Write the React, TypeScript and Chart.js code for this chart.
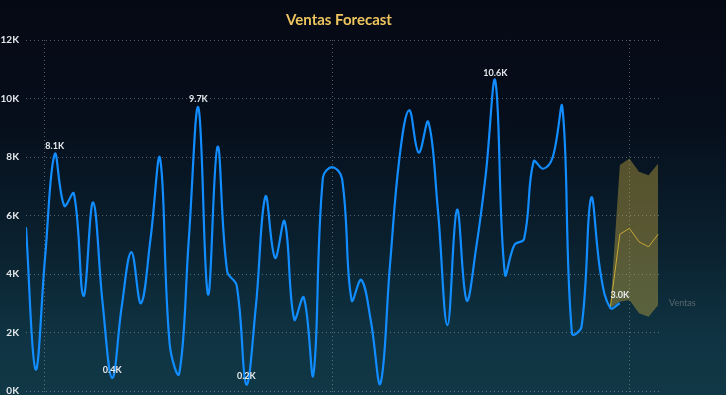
import React, { useEffect, useRef } from "react";
import { Chart, registerables } from "chart.js";

Chart.register(...registerables);

const TITLE = "Ventas Forecast";
const SERIES_NAME = "Ventas";

// Actual sales (index 0..62)
const ACTUAL = [
  5600, 740, 4600, 8100, 6330, 6750, 3250, 6450, 3000, 440,
  2900, 4750, 3000, 5200, 7950, 1600, 600, 5200, 9690, 3300,
  8350, 4100, 3600, 220, 2900, 6650, 4550, 5800, 2450, 3200,
  550, 7300, 7650, 7250, 3100, 3800, 2400, 250, 4300, 8000,
  9600, 8150, 9200, 6200, 2250, 6200, 3100, 4900, 7400, 10600,
  4000, 5000, 5200, 7850, 7600, 8000, 9700, 1970, 2200, 6600,
  4000, 2840, 3000,
];

// Forecast (starts at index 61)
const FORECAST_START = 61;
const FORECAST = [2840, 5360, 5560, 5100, 4930, 5360];
const UPPER = [2840, 7730, 7950, 7500, 7380, 7780];
const LOWER = [2840, 3050, 3110, 2660, 2540, 2940];

const LABELED = [3, 9, 18, 23, 49, 62];
const Y_MAX = 12000;
const Y_STEP = 2000;
const X_GRID = [1.9, 31.95, 63];
const X_MAX = 66.4;

const GRID_COLOR = "rgba(150,160,165,0.55)";

const overlayPlugin = {
  id: "overlay",
  afterDatasetsDraw(chart: any) {
    const { ctx, chartArea } = chart;
    const xs = chart.scales.x;
    const ys = chart.scales.y;
    ctx.save();
    // Title
    ctx.font = "bold 15px Lato";
    ctx.fillStyle = "#EEC55E";
    ctx.textAlign = "center";
    ctx.textBaseline = "middle";
    ctx.fillText(TITLE, (chartArea.left + chartArea.right) / 2 - 5, 20);
    // Data labels
    ctx.font = "bold 9px Lato";
    ctx.fillStyle = "#E6E9EC";
    ctx.textBaseline = "middle";
    LABELED.forEach((i) => {
      const v = ACTUAL[i];
      const px = xs.getPixelForValue(i);
      const py = ys.getPixelForValue(v);
      ctx.fillText((v / 1000).toFixed(1) + "K", px, py - 8);
    });
    // End label
    const last = ACTUAL.length - 1;
    ctx.font = "9px Lato";
    ctx.fillStyle = "#56656B";
    ctx.textAlign = "left";
    ctx.fillText(SERIES_NAME, chartArea.right + 7, ys.getPixelForValue(ACTUAL[last]));
    ctx.restore();
  },
};

export default function App() {
  const ref = useRef<HTMLCanvasElement | null>(null);

  useEffect(() => {
    if (!ref.current) return;
    const fc = (arr: number[]) => arr.map((y, k) => ({ x: FORECAST_START + k, y }));
    const chart = new Chart(ref.current, {
      type: "line",
      data: {
        datasets: [
          {
            label: SERIES_NAME,
            data: ACTUAL.map((y, i) => ({ x: i, y })),
            borderColor: "#118DFF",
            borderWidth: 2.2,
            tension: 0.4,
            pointRadius: 0,
            fill: false,
          },
          {
            label: "Forecast",
            data: fc(FORECAST),
            borderColor: "#C9A833",
            borderWidth: 1,
            tension: 0,
            pointRadius: 0,
            fill: false,
          },
          {
            label: "Upper",
            data: fc(UPPER),
            borderWidth: 0,
            borderColor: "rgba(0,0,0,0)",
            backgroundColor: "rgba(205,175,62,0.4)",
            tension: 0,
            pointRadius: 0,
            fill: "+1",
          },
          {
            label: "Lower",
            data: fc(LOWER),
            borderWidth: 0,
            borderColor: "rgba(0,0,0,0)",
            tension: 0,
            pointRadius: 0,
            fill: false,
          },
        ],
      },
      options: {
        animation: false,
        responsive: false,
        maintainAspectRatio: false,
        layout: { padding: { top: 40, right: 64, bottom: 0, left: 0 } },
        plugins: {
          legend: { display: false },
          tooltip: { enabled: false },
          title: { display: false },
        },
        scales: {
          x: {
            type: "linear",
            min: 0,
            max: X_MAX,
            afterBuildTicks: (scale: any) => {
              scale.ticks = X_GRID.map((value) => ({ value }));
            },
            afterFit: (scale: any) => {
              scale.height = 4;
              scale.paddingLeft = 0;
              scale.paddingRight = 0;
            },
            ticks: { display: false },
            grid: {
              color: GRID_COLOR,
              drawTicks: true,
              tickLength: 4,
              tickColor: GRID_COLOR,
              tickBorderDash: [1, 3],
            },
            border: { display: false, dash: [1, 3] },
          },
          y: {
            min: 0,
            max: Y_MAX,
            ticks: {
              stepSize: Y_STEP,
              padding: 7,
              color: "#E4E7EA",
              font: { family: "Lato", size: 10, weight: "bold" },
              callback: (v: any) => Number(v) / 1000 + "K",
            },
            afterFit: (scale: any) => {
              scale.width = 26;
              scale.paddingTop = 0;
              scale.paddingBottom = 0;
            },
            grid: { color: GRID_COLOR, drawTicks: false },
            border: { display: false, dash: [1, 3] },
          },
        },
      },
      plugins: [overlayPlugin],
    } as any);
    return () => chart.destroy();
  }, []);

  return (
    <div
      style={{
        position: "fixed",
        left: 0,
        top: 0,
        width: 726,
        height: 395,
        background:
          "linear-gradient(to bottom, #050914 0%, #060e1b 30%, #0a1f2d 60%, #0f3342 85%, #113846 100%)",
      }}
    >
      <canvas ref={ref} width={726} height={395} style={{ display: "block" }} />
    </div>
  );
}
